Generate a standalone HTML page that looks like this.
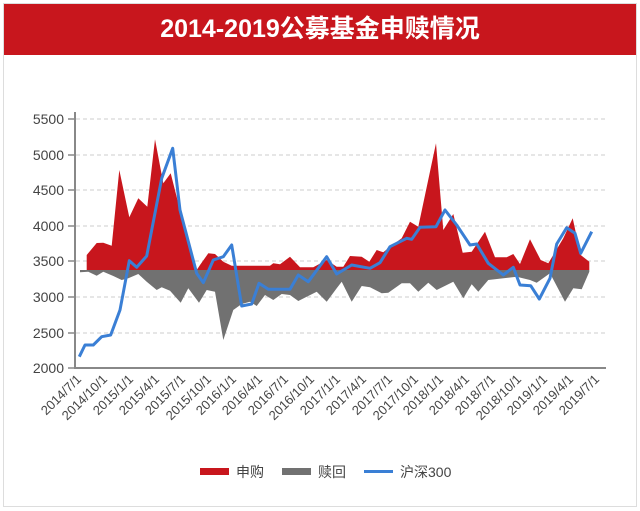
<!DOCTYPE html>
<html><head><meta charset="utf-8"><style>
html,body{margin:0;padding:0;background:#fff;}
body{width:640px;height:511px;position:relative;overflow:hidden;font-family:"Liberation Sans","Noto Sans CJK SC",sans-serif;}
.frame{position:absolute;left:3px;top:3px;width:632px;height:502px;border:1px solid #ddd;}
.title{position:absolute;left:4px;top:4px;width:632px;height:51px;background:#c8161d;color:#fff;font-weight:bold;font-size:25px;text-align:center;line-height:51px;}
</style></head><body>
<div class="frame"></div>
<div class="title">2014-2019公募基金申赎情况</div>
<svg width="640" height="511" style="position:absolute;left:0;top:0" font-family="Liberation Sans, Noto Sans CJK SC, sans-serif">
<g stroke="#ccc" stroke-dasharray="4,3" stroke-width="1">
<line x1="76" y1="119" x2="606" y2="119"/><line x1="76" y1="155" x2="606" y2="155"/><line x1="76" y1="190" x2="606" y2="190"/><line x1="76" y1="226" x2="606" y2="226"/><line x1="76" y1="261" x2="606" y2="261"/><line x1="76" y1="297" x2="606" y2="297"/><line x1="76" y1="333" x2="606" y2="333"/>
</g>
<polygon fill="#c8161d" points="86.7,270 86.7,255 96.7,243 103.3,242.7 111.7,245.7 119.3,170 129.3,217.3 138.3,198.3 147.3,206.7 155,139.3 163.3,183.3 170.7,173.3 180,210 196.7,270 200,265 208.3,253.3 215,254 223.3,261.7 231.7,265.7 270,265.7 273.3,263.3 280,264.3 290,256.7 300,267.3 313.3,267.3 326.7,260 336.7,266.7 343.3,266.7 350,256 361.7,256.7 369.3,261.7 376.7,250 383.3,252.3 390,246.7 401.7,238.3 410,221.7 418.3,226.7 436,143.3 443.3,230 453.3,214 462.7,252.7 471.7,251.7 485,231.7 495,257.3 506.7,257.3 513.3,254 520,264 530,239.3 540.7,260 548.3,263.3 563.3,238.3 572.7,218.3 580.7,255 589.3,261.7 589.3,270"/>
<polygon fill="#717171" points="80,270 80,272.3 88.3,271.7 96.7,275.7 103.3,271.7 113.3,276 121.7,280 128.3,278.3 138.3,274 146.7,281.7 156.7,290 161.7,287.3 170,290.7 180.7,302.7 188.3,288.3 199,302.7 206.7,290 215,291.7 223.3,340 233.3,310 241.7,304 250,301.7 256.7,306 265,295 273.3,300 281.7,294 290,295 298.3,301 306.7,296.7 316.7,291.7 326.7,301.7 336.7,288.3 341.7,281.7 351.7,301.7 361.7,286 370,287.3 381.7,293.3 388.3,292.7 401.7,283.3 410,283.3 418.3,291.7 428.3,282.7 436.7,290 453.3,281.7 463.3,298.3 471.7,284.3 478.3,291.7 488.3,280 516.7,276.7 530,280 536.7,282.7 550,273.3 565,301.7 573.3,288.3 581.7,289.3 589.3,271.7 589.3,270"/>
<polyline fill="none" stroke="#3a7fd5" stroke-width="3" stroke-linejoin="round" points="79.3,356.7 85,345 93.3,345 101.7,336.7 110.7,335 120,310 129.3,260.7 136.7,267.3 146.7,256 161.7,178.3 172.7,148.3 180,210 196.7,273.3 203.3,282.7 213.3,260 223.3,256.7 231.7,245 241.7,306 251.7,304 259,283.3 268.3,289.3 290,289.3 298.3,275 308.3,281.7 326.7,256.7 336.7,274 351.7,265 370,268.3 380,262.7 390,246.7 406.7,238.3 411.7,239.3 420,227.3 436,226.7 445,210 456.7,225 470,245 476.7,244 488.3,263.3 503.3,275 513.3,267.3 520,285 530.7,285.7 539.3,299 550,278.3 556.7,244 566.7,227.7 575,233.3 580.7,253.3 591.7,231.7"/>
<g stroke="#888" stroke-width="2"><line x1="75" y1="112" x2="75" y2="369"/><line x1="74" y1="368" x2="606" y2="368"/></g>
<g stroke="#888" stroke-width="1.5">
<line x1="68" y1="119" x2="75" y2="119"/><line x1="68" y1="155" x2="75" y2="155"/><line x1="68" y1="190" x2="75" y2="190"/><line x1="68" y1="226" x2="75" y2="226"/><line x1="68" y1="261" x2="75" y2="261"/><line x1="68" y1="297" x2="75" y2="297"/><line x1="68" y1="333" x2="75" y2="333"/><line x1="68" y1="368" x2="75" y2="368"/>
</g>
<g font-size="14" fill="#444" text-anchor="end">
<text x="64" y="124">5500</text><text x="64" y="160">5000</text><text x="64" y="195">4500</text><text x="64" y="231">4000</text><text x="64" y="266">3500</text><text x="64" y="302">3000</text><text x="64" y="338">2500</text><text x="64" y="373">2000</text>
</g>
<g font-size="13" fill="#444" text-anchor="end">
<text transform="translate(82,380) rotate(-45)">2014/7/1</text>
<text transform="translate(108,380) rotate(-45)">2014/10/1</text>
<text transform="translate(134,380) rotate(-45)">2015/1/1</text>
<text transform="translate(160,380) rotate(-45)">2015/4/1</text>
<text transform="translate(186,380) rotate(-45)">2015/7/1</text>
<text transform="translate(212,380) rotate(-45)">2015/10/1</text>
<text transform="translate(237,380) rotate(-45)">2016/1/1</text>
<text transform="translate(263,380) rotate(-45)">2016/4/1</text>
<text transform="translate(289,380) rotate(-45)">2016/7/1</text>
<text transform="translate(315,380) rotate(-45)">2016/10/1</text>
<text transform="translate(341,380) rotate(-45)">2017/1/1</text>
<text transform="translate(367,380) rotate(-45)">2017/4/1</text>
<text transform="translate(393,380) rotate(-45)">2017/7/1</text>
<text transform="translate(419,380) rotate(-45)">2017/10/1</text>
<text transform="translate(444,380) rotate(-45)">2018/1/1</text>
<text transform="translate(470,380) rotate(-45)">2018/4/1</text>
<text transform="translate(496,380) rotate(-45)">2018/7/1</text>
<text transform="translate(522,380) rotate(-45)">2018/10/1</text>
<text transform="translate(548,380) rotate(-45)">2019/1/1</text>
<text transform="translate(574,380) rotate(-45)">2019/4/1</text>
<text transform="translate(600,380) rotate(-45)">2019/7/1</text>
</g>
<rect x="200" y="468" width="29" height="7" fill="#c8161d"/>
<text x="236" y="477" font-size="14" fill="#444">申购</text>
<rect x="282" y="468" width="29" height="7" fill="#717171"/>
<text x="318" y="477" font-size="14" fill="#444">赎回</text>
<line x1="364" y1="471.5" x2="393" y2="471.5" stroke="#3a7fd5" stroke-width="3"/>
<text x="400" y="477" font-size="14" fill="#444">沪深300</text>
</svg>
</body></html>
